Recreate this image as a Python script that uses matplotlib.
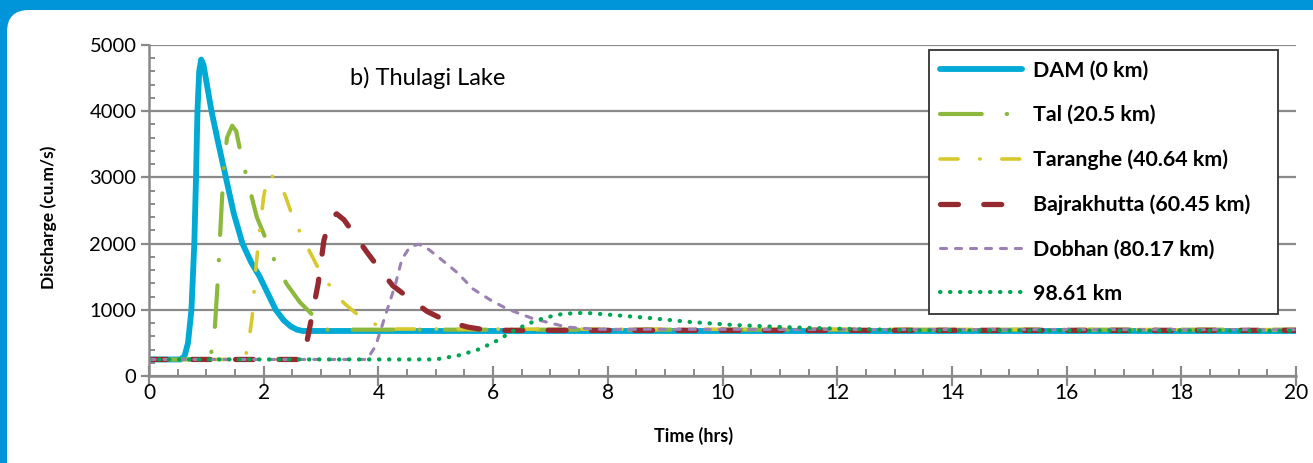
import matplotlib
matplotlib.use("Agg")
import matplotlib.pyplot as plt
from matplotlib.patches import FancyBboxPatch

plt.rcParams['font.family'] = ['Lato', 'DejaVu Sans']

# --- data (time in hrs, discharge in cu.m/s) ---
dam_t = [0, 0.55, 0.62, 0.68, 0.74, 0.79, 0.82, 0.845, 0.875, 0.91, 0.95, 1.0, 1.09, 1.2, 1.34,
         1.48, 1.63, 1.78, 1.93, 2.07, 2.21, 2.35, 2.47, 2.58, 2.68, 20]
dam_q = [250, 250, 300, 500, 1000, 2000, 3000, 4000, 4600, 4780, 4700, 4450, 4000, 3550, 3000,
         2450, 2000, 1720, 1500, 1250, 1000, 840, 750, 700, 680, 680]

tal_t = [0, 1.0, 1.08, 1.15, 1.2, 1.25, 1.3, 1.36, 1.45, 1.52, 1.59, 1.69, 1.88, 2.04, 2.2, 2.4, 2.63, 2.9, 3.0, 20]
tal_q = [250, 250, 320, 755, 1450, 2300, 3100, 3600, 3780, 3700, 3405, 3050, 2400, 2065, 1715, 1390, 1115, 880, 700, 700]

tar_t = [0, 1.65, 1.72, 1.8, 1.86, 1.92, 2.0, 2.08, 2.25, 2.38, 2.5, 2.7, 2.96, 3.2, 3.4, 3.64, 3.95, 4.25, 20]
tar_q = [250, 250, 400, 900, 1600, 2130, 2715, 3050, 2965, 2715, 2415, 2050, 1615, 1300, 1100, 925, 780, 710, 700]

baj_t = [0, 2.65, 2.75, 2.85, 2.95, 3.05, 3.15, 3.27, 3.4, 3.56, 3.8, 4.0, 4.25, 4.55, 4.85, 5.2, 5.55, 5.8, 6.2, 20]
baj_q = [250, 250, 500, 950, 1400, 2050, 2350, 2450, 2360, 2165, 1870, 1640, 1365, 1165, 975, 825, 740, 705, 690, 690]

dob_t = [0, 3.8, 3.95, 4.14, 4.29, 4.41, 4.55, 4.7, 4.85, 5.07, 5.37, 5.65, 5.95, 6.24, 6.7, 7.28, 7.8, 20]
dob_q = [250, 250, 450, 965, 1365, 1765, 1950, 1990, 1930, 1780, 1565, 1315, 1150, 1015, 865, 740, 705, 700]

km98_t = [0, 5.0, 5.42, 5.74, 6.03, 6.32, 6.61, 6.9, 7.22, 7.6, 8.04, 8.68, 9.38, 10.2, 11.2, 12.4, 13.5, 20]
km98_q = [250, 250, 315, 400, 515, 665, 790, 880, 940, 955, 925, 880, 820, 770, 735, 705, 690, 685]

labels = ["DAM (0 km)", "Tal (20.5 km)", "Taranghe (40.64 km)",
          "Bajrakhutta (60.45 km)", "Dobhan (80.17 km)", "98.61 km"]

fig = plt.figure(figsize=(13.13, 4.63), dpi=100)
fig.patch.set_facecolor('#0095d9')
# white rounded panel (pixel coordinates), kept behind the axes
panel = FancyBboxPatch((7, -40), 1360, 463 - 10 + 40, boxstyle="round,pad=0,rounding_size=22",
                       transform=None, facecolor='white', edgecolor='none', zorder=-5)
fig.add_artist(panel)

ax = fig.add_axes([149 / 1313, 87 / 463, 1147 / 1313, 331 / 463])
ax.set_facecolor('none')

ax.plot(dam_t, dam_q, color='#00aad4', lw=4.2, solid_capstyle='round',
        solid_joinstyle='round', label=labels[0])
ax.plot(tal_t, tal_q, color='#8cb83c', lw=3.0, dash_capstyle='round',
        dashes=(10, 6, 0.1, 6), label=labels[1])
ax.plot(tar_t, tar_q, color='#d6c92b', lw=2.6, dash_capstyle='round',
        dashes=(5, 6, 0.1, 6), label=labels[2])
ax.plot(baj_t, baj_q, color='#952b31', lw=3.8, dash_capstyle='round',
        dashes=(3.4, 4.8), label=labels[3])
ax.plot(dob_t, dob_q, color='#9b80b2', lw=2.2, dash_capstyle='round',
        dashes=(2.0, 2.9), label=labels[4])
ax.plot(km98_t, km98_q, color='#00a651', lw=3.0, dash_capstyle='round',
        dashes=(0.1, 2.3), label=labels[5])

ax.set_xlim(0, 20)
ax.set_ylim(0, 5000)
ax.set_xticks(range(0, 21, 2))
ax.set_xticks([x / 2 for x in range(0, 41)], minor=True)
ax.set_yticks(range(0, 5001, 1000))
ax.set_yticks(range(0, 5001, 200), minor=True)

gray = '#8a8a8a'
ax.yaxis.grid(True, which='major', color=gray, lw=1.6)
ax.set_axisbelow(True)
for s in ['top', 'right']:
    ax.spines[s].set_visible(False)
for s in ['left', 'bottom']:
    ax.spines[s].set_color(gray)
    ax.spines[s].set_linewidth(1.8)

ax.tick_params(axis='x', which='major', direction='inout', length=14, width=1.6, color=gray,
               labelsize=15, pad=-2)
ax.tick_params(axis='x', which='minor', direction='in', length=5, width=1.4, color=gray)
ax.tick_params(axis='y', which='major', direction='out', length=6, width=1.6, color=gray,
               labelsize=14.5, pad=3)
ax.tick_params(axis='y', which='minor', direction='in', length=4, width=1.4, color=gray)

ax.set_xlabel("Time (hrs)", fontsize=13, fontweight='bold')
ax.set_ylabel("Discharge (cu.m/s)", fontsize=12.5, fontweight='bold')
ax.xaxis.set_label_coords(0.475, -0.155)
ax.yaxis.set_label_coords(-0.08, 0.48)

ax.text(0.175, 0.90, "b) Thulagi Lake", transform=ax.transAxes, fontsize=17,
        ha='left', va='center')

leg = ax.legend(loc='upper left',
                bbox_to_anchor=(929 / 1313, 150 / 463, 349 / 1313, 263 / 463),
                bbox_transform=fig.transFigure, mode='expand', fontsize=15.4, frameon=True,
                fancybox=False, edgecolor='#333333', framealpha=1, handlelength=3.83,
                handletextpad=0.51, labelspacing=1.14, borderpad=0.5, borderaxespad=0)
leg.get_frame().set_linewidth(1.3)
for t in leg.get_texts():
    t.set_fontweight('bold')

fig.savefig("out.png", dpi=100, facecolor=fig.get_facecolor())
